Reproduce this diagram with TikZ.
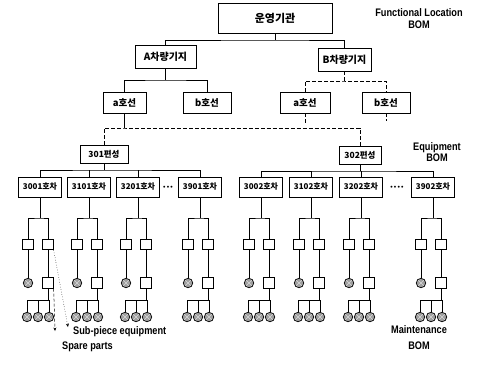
\documentclass[tikz,border=0pt]{standalone}
\usepackage{fontspec}
\setmainfont{Liberation Sans}
\newfontfamily\lblfont{Liberation Sans}[FakeStretch=0.84]
\newfontfamily\krfont{Noto Sans CJK KR}
\usetikzlibrary{arrows.meta}
\tikzset{
  conn/.style={line width=0.6pt},
  dconn/.style={line width=0.6pt, dash pattern=on 4pt off 2pt},
  box/.style={draw, line width=0.8pt, inner sep=0pt, fill=white},
  orgbox/.style={box, minimum width=114bp, minimum height=30bp, font=\krfont\bfseries\fontsize{11}{13}\selectfont},
  depotbox/.style={box, minimum height=23bp, font=\krfont\bfseries\fontsize{10}{12}\selectfont},
  linebox/.style={box, minimum height=21bp, font=\krfont\bfseries\fontsize{9.5}{11}\selectfont},
  setbox/.style={box, minimum height=18bp, font=\krfont\bfseries\fontsize{8.5}{10}\selectfont},
  carbox/.style={box, minimum width=43bp, minimum height=20bp, font=\krfont\bfseries\fontsize{8}{9}\selectfont},
  subbox/.style={draw, line width=0.8pt, inner sep=0pt, minimum width=10.5bp, minimum height=10.5bp},
  spare/.style={circle, draw, line width=0.7pt, fill=gray!75, inner sep=0pt, minimum size=9.5bp,
    path picture={\draw[white!85!black, line width=0.6pt]
      (path picture bounding box.south west) -- (path picture bounding box.north east)
      (path picture bounding box.north west) -- (path picture bounding box.south east);}},
  lbl/.style={font=\lblfont\bfseries\fontsize{11}{13}\selectfont, inner sep=0pt, align=center},
  leader/.style={line width=0.5pt, -{Stealth[length=3.5bp, width=3bp]}}
}
\begin{document}
\begin{tikzpicture}[x=1bp, y=-1bp]
\useasboundingbox (0,0) rectangle (484,370);

% labels
\node[lbl] (fl) at (419,19) {Functional Location\\[-1pt]BOM};
\node[lbl] (eq) at (437,152) {Equipment\\[-2pt]BOM};
\node[lbl] (mb) at (419,338) {Maintenance\\[3pt]BOM};
\node[lbl, anchor=west] (sp) at (73,332) {Sub-piece equipment};
\node[lbl, anchor=west] (spp) at (62,347) {Spare parts};

% top levels
\node[orgbox] (org) at (275,18) {운영기관};
\node[depotbox, minimum width=61bp] (A) at (165.5,57) {A차량기지};
\node[depotbox, minimum width=53bp] (B) at (344.5,59.5) {B차량기지};
\node[linebox, minimum width=43bp] (la) at (124.5,102.5) {a호선};
\node[linebox, minimum width=48bp] (lb) at (207,102.5) {b호선};
\node[linebox, minimum width=50bp] (ra) at (305,102.5) {a호선};
\node[linebox, minimum width=48bp] (rb) at (386,102.5) {b호선};
\node[setbox, minimum width=48bp] (s1) at (104,154) {301편성};
\node[setbox, minimum width=42bp] (s2) at (360,155.5) {302편성};

\coordinate (y1) at (0,40);
\coordinate (y2) at (0,80);
\coordinate (y3) at (0,81);
\coordinate (y4) at (0,128);
\coordinate (y5) at (0,170);
\coordinate (y6) at (0,171);

\draw[conn] (org.south) -- (org.south |- y1);
\draw[conn] (A.north) |- (org.south |- y1) -| (B.north);
\draw[conn] (A.south) -- (A.south |- y2);
\draw[conn] (la.north) |- (A.south |- y2) -| (lb.north);
\draw[dconn] (B.south) -- (B.south |- y3);
\draw[dconn] (ra.north) |- (B.south |- y3) -| (rb.north);

\draw[conn] (la.south) -- (la.south |- y4);
\draw[dconn] (s1.north) |- (la.south |- y4) -| (s2.north);
\coordinate (rae) at (305,124);
\coordinate (rbe) at (386,121);
\draw[dconn] (ra.south) -- (rae);
\draw[dconn] (rb.south) -- (rbe);

% cars
\foreach \c/\lab/\n in {40/3001/1, 89/3101/2, 138/3201/3, 200/3901/4,
                       261/3002/5, 311/3102/6, 361/3202/7, 433/3902/8}{
  \node[carbox] (car\n) at (\c,187) {\lab 호차};
}
\draw[conn] (s1.south) -- (s1.south |- y5);
\draw[conn] (car1.north) |- (s1.south |- y5) -| (car4.north);
\draw[conn] (car2.north) -- (car2.north |- y5);
\draw[conn] (car3.north) -- (car3.north |- y5);
\draw[conn] (s2.south) -- (s2.south |- y6);
\draw[conn] (car5.north) |- (s2.south |- y6) -| (car8.north);
\draw[conn] (car6.north) -- (car6.north |- y6);
\draw[conn] (car7.north) -- (car7.north |- y6);

\node[font=\fontsize{7}{7}\selectfont, inner sep=0pt] (dl) at (168,187.5) {•\,•\,•};
\node[font=\fontsize{7}{7}\selectfont, inner sep=0pt] (dr) at (397,187.5) {•\,•\,•\,•};

% equipment groups
\foreach \c/\n in {40/1, 89/2, 138/3, 200/4, 261/5, 311/6, 361/7, 433/8}{
  \node[subbox] (sl\n) at (\c-12,244.5) {};
  \node[subbox] (sr\n) at (\c+8,244.5) {};
  \node[spare] (p\n) at (\c-12,283) {};
  \node[subbox] (lo\n) at (\c+8,283) {};
  \node[spare] (qa\n) at (\c-13,317) {};
  \node[spare] (qb\n) at (\c-2,317) {};
  \node[spare] (qc\n) at (\c+9,317) {};
  \coordinate (j\n) at (\c,218);
  \coordinate (k\n) at (\c+8,300);
  \draw[conn] (car\n.south) -- (j\n);
  \draw[conn] (sl\n.north) |- (j\n) -| (sr\n.north);
  \draw[conn] (sl\n.south) -- (p\n.north);
  \draw[conn] (sr\n.south) -- (lo\n.north);
  \draw[conn] (lo\n.south) -- (lo\n.south |- k\n);
  \draw[conn] (qa\n.north) |- (k\n) -| (qc\n.north);
  \draw[conn] (qb\n.north) -- (qb\n.north |- k\n);
}

% leaders
\coordinate (t1) at (68,327);
\coordinate (t2) at (55,331);
\draw[leader, dotted] (sr1.south east) -- (t1);
\draw[leader, densely dashed] (lo1.south east) -- (t2);
\end{tikzpicture}
\end{document}
